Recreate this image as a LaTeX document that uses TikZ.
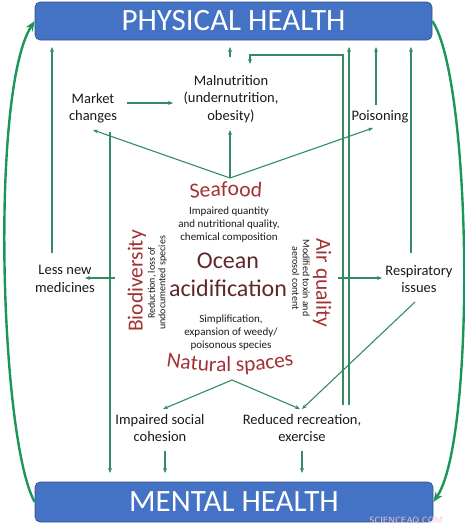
\documentclass[tikz,border=0pt]{standalone}
\usepackage{fontspec}
\setmainfont{Carlito}
\usetikzlibrary{arrows.meta,decorations.text}
\definecolor{boxblue}{RGB}{68,114,196}
\definecolor{boxedge}{RGB}{47,82,143}
\definecolor{lgreen}{RGB}{52,138,98}
\definecolor{bgreen}{RGB}{28,150,88}
\definecolor{wred}{RGB}{160,50,52}
\definecolor{ored}{RGB}{96,40,40}
\definecolor{wmark}{RGB}{240,200,205}
\newcommand{\bigredfont}{\fontsize{21.5pt}{24pt}\selectfont}
\tikzset{
  healthbox/.style={draw=boxedge, line width=0.6pt, fill=boxblue, rounded corners=5pt, text=white, font=\fontsize{31pt}{34pt}\selectfont},
  lbl/.style={align=center, text=black!90, font=\fontsize{14.5pt}{17.5pt}\selectfont, inner sep=0pt},
  desc/.style={align=center, text=black!90, font=\fontsize{11pt}{13pt}\selectfont, inner sep=0pt},
  rdesc/.style={align=center, text=black!90, font=\fontsize{10pt}{10.5pt}\selectfont, inner sep=0pt},
  theme/.style={text=wred, font=\bigredfont, inner sep=0pt},
  arr/.style={draw=lgreen, line width=1.1pt, -{Stealth[length=5pt,width=4pt]}},
  bigarr/.style={draw=bgreen, line width=2.4pt, -{Stealth[length=10pt,width=8pt]}},
}
\begin{document}
\begin{tikzpicture}[x=1pt,y=-1pt]
\useasboundingbox (0,0) rectangle (465,530);
% health boxes
\node[healthbox, minimum width=397pt, minimum height=38pt] (phys) at (233.5,21) {PHYSICAL HEALTH};
\node[healthbox, minimum width=398pt, minimum height=40pt] (ment) at (234,502) {MENTAL HEALTH};
\coordinate (pb) at (0,47);
\coordinate (mt) at (0,473);
% labels
\node[lbl] (malnut) at (231,99) {Malnutrition\\(undernutrition,\\obesity)};
\node[lbl] (market) at (93,108) {Market\\changes};
\node[lbl] (poison) at (380,117) {Poisoning};
\node[lbl] (lessmed) at (65,279) {Less new\\medicines};
\node[lbl] (resp) at (419,279) {Respiratory\\issues};
\node[lbl] (social) at (160,428) {Impaired social\\cohesion};
\node[lbl] (recre) at (302,428) {Reduced recreation,\\exercise};
% centre
\path[decorate, decoration={text along path, text align=center, text color=wred, text={|\bigredfont|Seafood}}] (185,199) to[bend left=6] (267,198);
\coordinate (seafood) at (228,192);
\node[desc] (seadesc) at (229,225) {Impaired quantity\\and nutritional quality,\\chemical composition};
\node[align=center, text=ored, font=\fontsize{24pt}{28pt}\selectfont, inner sep=0pt] (ocean) at (228,275) {Ocean\\acidification};
\node[theme, rotate=90] (biodiv) at (137,281) {Biodiversity};
\node[rdesc, rotate=90] (biodesc) at (157.5,283) {Reduction, loss of\\undocumented species};
\node[theme, rotate=-90] (air) at (322,283) {Air quality};
\node[rdesc, rotate=-90] (airdesc) at (301,278) {Modified toxin and\\aerosol content};
\node[desc] (simpl) at (231,333) {Simplification,\\expansion of weedy/\\poisonous species};
\path[decorate, decoration={text along path, text align=center, text color=wred, text={|\bigredfont|Natural spaces}}] (157,365) to[bend right=10] (303,364);
\coordinate (natural) at (229,372);
% hubs
\coordinate (shub) at (230,178);
\coordinate (nhub) at (232,380);
% connectors from seafood hub
\draw[arr] (shub) -- (93,130);
\draw[arr] (shub) -- (230,130);
\draw[arr] (shub) -- (373,128);
% market
\draw[arr] (127,103) -- (173,103);
\coordinate (mk) at (110,132);
\draw[arr] (mk) -- (mk |- mt);
% malnutrition up
\coordinate (mn) at (230,57);
\draw[arr] (mn) -- (mn |- pb);
% less medicines up
\coordinate (lm) at (52,253);
\draw[arr] (lm) -- (lm |- pb);
% poisoning up
\coordinate (po) at (376,105);
\draw[arr] (po) -- (po |- pb);
% respiratory up
\coordinate (rs) at (411,253);
\draw[arr] (rs) -- (rs |- pb);
% recreation up to physical and to malnutrition
\coordinate (rc1) at (349,405);
\coordinate (rc2) at (343,405);
\draw[arr] (rc1) -- (rc1 |- pb);
\draw[arr] (rc2) -- (343,55) -- (250,55) -- (250,64);
% biodiversity -> less medicines
\draw[arr] (115,278) -- (85,278);
% air quality -> respiratory
\draw[arr] (338,278) -- (382,278);
% respiratory -> recreation
\draw[arr] (415,302) -- (302,409);
% natural spaces hub
\draw[arr] (nhub) -- (163,409);
\draw[arr] (nhub) -- (300,409);
% to mental
\coordinate (sc) at (165,451);
\draw[arr] (sc) -- (sc |- mt);
\coordinate (rr) at (302,451);
\draw[arr] (rr) -- (rr |- mt);
% big curves
\draw[bigarr] (ment.west) .. controls (0,440) and (-10,90) .. (phys.west);
\draw[bigarr] (phys.east) .. controls (472,80) and (476,440) .. (ment.east);
% watermark
\node[text=wmark, font=\sffamily\fontsize{9pt}{10pt}\selectfont, inner sep=0pt] (wm) at (406,521) {SCIENCEAQ.COM};
\end{tikzpicture}
\end{document}
